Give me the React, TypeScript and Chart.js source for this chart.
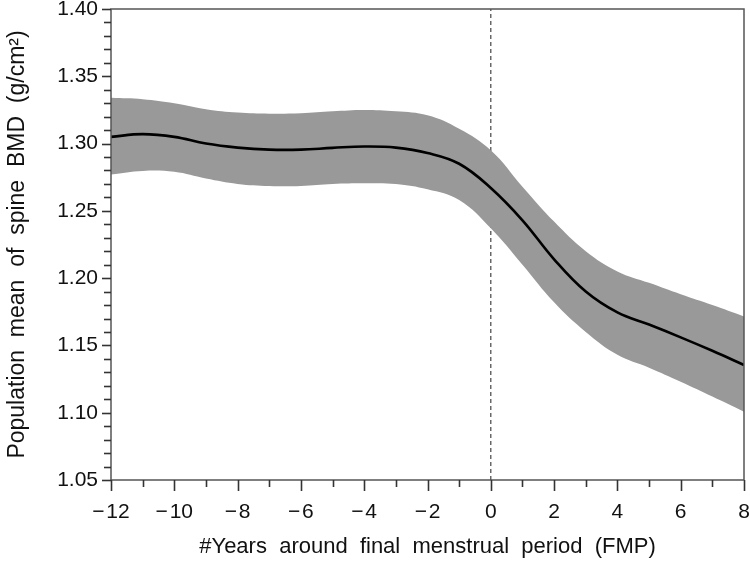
import React, { useEffect, useRef } from "react";
import { Chart, registerables } from "chart.js";

Chart.register(...registerables);

const years = [-12, -11, -10, -9, -8, -7, -6, -5, -4, -3, -2, -1, 0, 1, 2, 3, 4, 5, 6, 7, 8];
const meanBMD = [1.305, 1.307, 1.305, 1.3, 1.297, 1.2955, 1.2955, 1.2968, 1.2978, 1.297, 1.293, 1.285, 1.267, 1.243, 1.214, 1.19, 1.1745, 1.1655, 1.156, 1.146, 1.1355];
const upperBMD = [1.334, 1.333, 1.33, 1.3255, 1.323, 1.3222, 1.3225, 1.324, 1.325, 1.324, 1.321, 1.311, 1.295, 1.268, 1.242, 1.22, 1.205, 1.1965, 1.188, 1.18, 1.1715];
const lowerBMD = [1.277, 1.2797, 1.279, 1.274, 1.27, 1.2685, 1.2685, 1.27, 1.2705, 1.27, 1.266, 1.258, 1.237, 1.21, 1.182, 1.16, 1.143, 1.1335, 1.123, 1.112, 1.1007];
const fmpLineX = [0, 0];
const fmpLineY = [1.05, 1.4];

const xTitle = "#Years  around  final  menstrual  period  (FMP)";
const yTitle = "Population  mean  of  spine  BMD  (g/cm\u00B2)";

const FONT = "'Liberation Sans', Arial, Helvetica, sans-serif";

const tickMarks = {
  id: "tickMarks",
  afterDraw(chart: any) {
    const { ctx, chartArea, scales } = chart;
    const xs = scales.x;
    const ys = scales.y;
    ctx.save();
    ctx.strokeStyle = "#555";
    ctx.lineWidth = 1.5;
    ctx.strokeRect(chartArea.left, chartArea.top, chartArea.right - chartArea.left, chartArea.bottom - chartArea.top);
    ctx.strokeStyle = "#333";
    ctx.lineWidth = 1.6;
    for (let v = -12; v <= 8; v++) {
      const px = Math.round(xs.getPixelForValue(v)) + 0.5;
      const len = v % 2 === 0 ? 11 : 7;
      ctx.beginPath();
      ctx.moveTo(px, chartArea.bottom);
      ctx.lineTo(px, chartArea.bottom + len);
      ctx.stroke();
    }
    for (let i = 0; i <= 35; i++) {
      const v = 1.05 + i * 0.01;
      const py = Math.round(ys.getPixelForValue(v)) + 0.5;
      const len = i % 5 === 0 ? 9 : 7;
      ctx.beginPath();
      ctx.moveTo(chartArea.left, py);
      ctx.lineTo(chartArea.left - len, py);
      ctx.stroke();
    }
    ctx.restore();
  },
};

export default function App() {
  const ref = useRef<HTMLCanvasElement>(null);
  useEffect(() => {
    document.body.style.margin = "0";
    const ctx = ref.current!.getContext("2d")!;
    const pts = (ys: number[]) => years.map((x, i) => ({ x, y: ys[i] }));
    const chart = new Chart(ctx, {
      type: "line",
      data: {
        datasets: [
          {
            label: "lower",
            data: pts(lowerBMD),
            borderWidth: 0,
            pointRadius: 0,
            fill: false,
            order: 2,
            tension: 0.4,
          },
          {
            label: "upper",
            data: pts(upperBMD),
            borderWidth: 0,
            pointRadius: 0,
            backgroundColor: "#999999",
            fill: "-1",
            order: 1,
            tension: 0.4,
          },
          {
            label: "mean",
            data: pts(meanBMD),
            borderColor: "#000",
            borderWidth: 2.6,
            pointRadius: 0,
            fill: false,
            order: 0,
            tension: 0.4,
          },
          {
            label: "FMP",
            data: fmpLineX.map((x, i) => ({ x, y: fmpLineY[i] })),
            borderColor: "#444",
            borderWidth: 1.2,
            borderDash: [4, 3],
            pointRadius: 0,
            fill: false,
            order: 3,
          },
        ],
      },
      options: {
        animation: false,
        responsive: false,
        maintainAspectRatio: false,
        layout: { padding: { top: 9, right: 6, left: 0, bottom: 0 } },
        plugins: { legend: { display: false }, tooltip: { enabled: false } },
        scales: {
          x: {
            type: "linear",
            min: -12,
            max: 8,
            grid: { display: false, drawTicks: false },
            border: { display: false },
            ticks: {
              stepSize: 2,
              padding: 20,
              color: "#111",
              font: { family: FONT, size: 21 },
              maxRotation: 0,
              callback: (v: any) => (v < 0 ? "\u2212\u200A" + Math.abs(v) : String(v)),
            },
            title: {
              display: true,
              text: xTitle,
              color: "#111",
              font: { family: FONT, size: 22 },
              padding: { top: 0, bottom: 2 },
            },
            afterFit: (s: any) => {
              s.height = 82;
              s.paddingLeft = 0;
              s.paddingRight = 0;
            },
          },
          y: {
            type: "linear",
            min: 1.05,
            max: 1.4,
            grid: { display: false, drawTicks: false },
            border: { display: false },
            ticks: {
              stepSize: 0.05,
              padding: 13,
              color: "#111",
              font: { family: FONT, size: 21 },
              callback: (v: any) => Number(v).toFixed(2),
            },
            title: {
              display: true,
              text: yTitle,
              color: "#111",
              font: { family: FONT, size: 23 },
              padding: { top: 4, bottom: 0 },
            },
            afterFit: (s: any) => {
              s.width = 111;
              s.paddingTop = 0;
              s.paddingBottom = 0;
            },
          },
        },
      },
      plugins: [tickMarks],
    });
    return () => chart.destroy();
  }, []);
  return (
    <div style={{ position: "absolute", left: 0, top: 0, width: 750, height: 562 }}>
      <canvas ref={ref} width={750} height={562} style={{ width: 750, height: 562 }} />
    </div>
  );
}
